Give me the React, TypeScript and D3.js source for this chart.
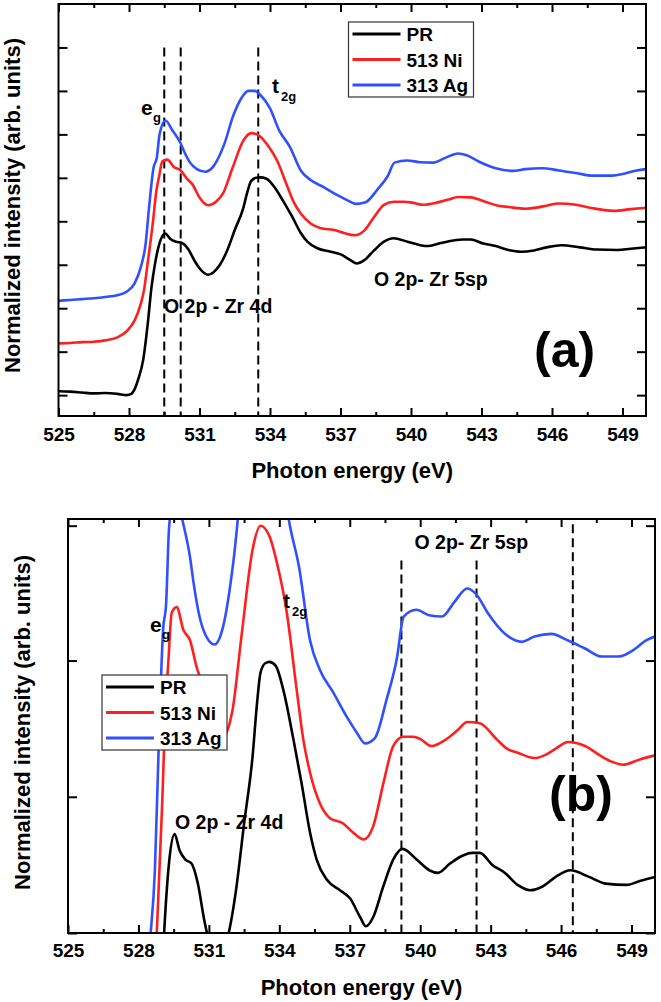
import React, { useRef, useEffect } from "react";
import * as d3 from "d3";

type Pt = [number, number];

// O K-edge spectra, [photon energy (eV), normalized intensity]
const prData: Pt[] = [
  [525.0, 0.09], [525.5, 0.08], [526.0, 0.06], [526.5, 0.04], [527.0, 0.05], [527.5, 0.03],
  [527.9, 0.0], [528.1, 0.03], [528.25, 0.15], [528.4, 0.38], [528.6, 0.8], [528.8, 1.65],
  [528.95, 2.45], [529.1, 3.0], [529.3, 3.5], [529.54, 3.72], [529.75, 3.6], [530.0, 3.53],
  [530.26, 3.5], [530.53, 3.35], [530.8, 3.08], [531.0, 2.92], [531.2, 2.81], [531.37, 2.77],
  [531.6, 2.83], [531.87, 3.0], [532.14, 3.28], [532.5, 3.8], [532.86, 4.3], [533.05, 4.7],
  [533.2, 4.93], [533.4, 5.0], [533.58, 5.01], [533.85, 4.98], [534.17, 4.8], [534.6, 4.43],
  [534.95, 4.1], [535.31, 3.73], [535.59, 3.53], [536.02, 3.38], [536.58, 3.3], [537.01, 3.24],
  [537.44, 3.1], [537.69, 3.03], [538.0, 3.1], [538.43, 3.33], [538.85, 3.53], [539.25, 3.61],
  [539.85, 3.53], [540.39, 3.45], [540.75, 3.43], [541.27, 3.5], [541.82, 3.56], [542.2, 3.58],
  [542.54, 3.58], [543.07, 3.49], [543.61, 3.43], [544.15, 3.34], [544.69, 3.3], [545.23, 3.33],
  [545.77, 3.4], [546.4, 3.45], [547.19, 3.4], [547.9, 3.35], [548.8, 3.34], [549.35, 3.37],
  [550.0, 3.4],
];

const niData: Pt[] = [
  [525.0, 1.19], [525.5, 1.2], [526.0, 1.22], [526.5, 1.23], [527.0, 1.26], [527.5, 1.33],
  [527.9, 1.47], [528.24, 1.72], [528.5, 2.1], [528.65, 2.45], [528.78, 2.98], [529.0, 3.9],
  [529.17, 4.72], [529.27, 5.0], [529.42, 5.38], [529.63, 5.42], [529.91, 5.25], [530.2, 5.17],
  [530.48, 4.97], [530.7, 4.85], [531.0, 4.55], [531.37, 4.37], [531.7, 4.45], [532.0, 4.64],
  [532.4, 5.22], [532.86, 5.85], [533.2, 6.03], [533.58, 5.95], [533.94, 5.72], [534.3, 5.4],
  [534.74, 4.8], [535.02, 4.43], [535.31, 4.18], [535.73, 3.95], [536.16, 3.84], [536.72, 3.8],
  [537.15, 3.73], [537.6, 3.68], [538.0, 3.78], [538.43, 4.1], [538.85, 4.38], [539.28, 4.45],
  [539.71, 4.45], [540.03, 4.43], [540.48, 4.38], [541.1, 4.43], [541.6, 4.5], [542.0, 4.56],
  [542.54, 4.55], [543.26, 4.43], [543.7, 4.36], [544.15, 4.33], [544.87, 4.29], [545.4, 4.32],
  [545.77, 4.36], [546.3, 4.41], [547.02, 4.38], [547.74, 4.3], [548.2, 4.26], [548.63, 4.24],
  [549.35, 4.28], [550.0, 4.31],
];

const agData: Pt[] = [
  [525.0, 2.17], [525.5, 2.19], [526.0, 2.21], [526.5, 2.23], [527.0, 2.26], [527.5, 2.3],
  [527.9, 2.38], [528.24, 2.57], [528.52, 2.98], [528.7, 3.45], [528.85, 4.3], [529.05, 5.25],
  [529.18, 5.45], [529.3, 6.0], [529.55, 6.32], [529.85, 6.09], [530.2, 5.79], [530.35, 5.6],
  [530.6, 5.35], [530.89, 5.2], [531.24, 5.14], [531.6, 5.27], [532.05, 5.77], [532.45, 6.45],
  [532.8, 6.85], [533.08, 7.0], [533.35, 7.0], [533.6, 6.9], [534.0, 6.6], [534.4, 6.08],
  [534.84, 5.72], [535.31, 5.17], [535.73, 4.95], [536.3, 4.78], [536.87, 4.6], [537.3, 4.48],
  [537.65, 4.4], [538.07, 4.44], [538.57, 4.73], [539.0, 5.03], [539.3, 5.35], [539.84, 5.4],
  [540.38, 5.36], [540.93, 5.35], [541.46, 5.46], [542.0, 5.56], [542.37, 5.52], [542.9, 5.37],
  [543.61, 5.22], [544.33, 5.16], [544.87, 5.2], [545.58, 5.22], [546.3, 5.17], [547.02, 5.11],
  [547.74, 5.05], [548.45, 5.05], [549.17, 5.11], [549.6, 5.17], [550.0, 5.2],
];

const seriesNames = ["PR", "513 Ni", "313 Ag"];
const seriesColors = ["#000000", "#ff1f1f", "#3050ff"];
const seriesData = [prData, niData, agData];

const xDomain: Pt = [525, 550];
const xMajorTicks = [525, 528, 531, 534, 537, 540, 543, 546, 549];
const xMinorTicks = [526.5, 529.5, 532.5, 535.5, 538.5, 541.5, 544.5, 547.5];
const topYTicks = [0, 1, 2, 3, 4, 5, 6, 7, 8];
const bottomYTicks = [2.98, 4.0, 5.02, 6.03];

// dashed guide lines: energy and the intensity where the dash starts
const topDashEnergy = [529.5, 530.2, 533.5];
const topDashStart = [8.0, 8.0, 8.0];
const bottomDashEnergy = [539.2, 542.4, 546.5];
const bottomDashStart = [5.77, 5.77, 6.04];

const FONT = "'Liberation Sans', Arial, sans-serif";

const panels = [
  {
    id: "a",
    left: 58.5, right: 646, top: 4, bottom: 416,
    yDomain: [-0.48, 9.0] as Pt,
    yTicks: topYTicks,
    dashE: topDashEnergy, dashI: topDashStart,
    tickPad: 12,
    xTitleY: 478, yTitleX: 20, yTitleY: 205.5,
    legend: { x: 348.5, y: 22 },
    eg: { x: 141, y: 115 }, t2g: { x: 272, y: 93 },
    zr4d: { x: 164, y: 312.5 }, zr5sp: { x: 374, y: 286 },
    tag: { text: "(a)", x: 534, y: 367 },
  },
  {
    id: "b",
    left: 68, right: 655, top: 519, bottom: 933,
    yDomain: [2.98, 6.08] as Pt,
    yTicks: bottomYTicks,
    dashE: bottomDashEnergy, dashI: bottomDashStart,
    tickPad: 11,
    xTitleY: 995, yTitleX: 29.5, yTitleY: 722.5,
    legend: { x: 102, y: 675 },
    eg: { x: 150, y: 632 }, t2g: { x: 283, y: 608 },
    zr4d: { x: 175, y: 828.5 }, zr5sp: { x: 414.5, y: 548.5 },
    tag: { text: "(b)", x: 549, y: 811 },
  },
];

const App = () => {
  const svgRef = useRef<SVGSVGElement>(null);

  useEffect(() => {
    const svg = d3.select(svgRef.current);
    svg.selectAll("*").remove();

    panels.forEach((p) => {
      const x = d3.scaleLinear().domain(xDomain).range([p.left, p.right]);
      const y = d3.scaleLinear().domain(p.yDomain).range([p.bottom, p.top]);
      const g = svg.append("g");

      const clipId = `clip-${p.id}`;
      g.append("clipPath")
        .attr("id", clipId)
        .append("rect")
        .attr("x", p.left)
        .attr("y", p.top)
        .attr("width", p.right - p.left)
        .attr("height", p.bottom - p.top);

      // dashed guides
      p.dashE.forEach((e, i) => {
        g.append("line")
          .attr("x1", x(e))
          .attr("x2", x(e))
          .attr("y1", y(p.dashI[i]))
          .attr("y2", p.bottom)
          .attr("stroke", "#000")
          .attr("stroke-width", 2)
          .attr("stroke-dasharray", "9,5");
      });

      const line = d3
        .line<Pt>()
        .x((d) => x(d[0]))
        .y((d) => y(d[1]))
        .curve(d3.curveMonotoneX);

      seriesData.forEach((s, i) => {
        g.append("path")
          .attr("d", line(s))
          .attr("clip-path", `url(#${clipId})`)
          .attr("fill", "none")
          .attr("stroke", seriesColors[i])
          .attr("stroke-width", 2.6)
          .attr("stroke-linejoin", "round");
      });

      // axes, ticks pointing inward on all four sides
      const styleAxis = (a) => {
        a.select(".domain").remove();
        a.selectAll("line").attr("stroke", "#000").attr("stroke-width", 2);
        a.selectAll("text")
          .attr("font-family", FONT)
          .attr("font-weight", "bold")
          .attr("font-size", 19)
          .attr("fill", "#000");
      };

      g.append("g")
        .attr("transform", `translate(0,${p.bottom})`)
        .call(
          d3.axisBottom(x).tickValues(xMajorTicks).tickSize(-8).tickSizeOuter(0)
            .tickPadding(p.tickPad).tickFormat(d3.format("d"))
        )
        .call(styleAxis);
      g.append("g")
        .attr("transform", `translate(0,${p.bottom})`)
        .call(d3.axisBottom(x).tickValues(xMinorTicks).tickSize(-4).tickSizeOuter(0).tickFormat(() => ""))
        .call(styleAxis);
      g.append("g")
        .attr("transform", `translate(0,${p.top})`)
        .call(d3.axisTop(x).tickValues(xMajorTicks).tickSize(-8).tickSizeOuter(0).tickFormat(() => ""))
        .call(styleAxis);
      g.append("g")
        .attr("transform", `translate(0,${p.top})`)
        .call(d3.axisTop(x).tickValues(xMinorTicks).tickSize(-4).tickSizeOuter(0).tickFormat(() => ""))
        .call(styleAxis);
      g.append("g")
        .attr("transform", `translate(${p.left},0)`)
        .call(d3.axisLeft(y).tickValues(p.yTicks).tickSize(-9).tickSizeOuter(0).tickFormat(() => ""))
        .call(styleAxis);
      g.append("g")
        .attr("transform", `translate(${p.right},0)`)
        .call(d3.axisRight(y).tickValues(p.yTicks).tickSize(-9).tickSizeOuter(0).tickFormat(() => ""))
        .call(styleAxis);

      g.append("rect")
        .attr("x", p.left)
        .attr("y", p.top)
        .attr("width", p.right - p.left)
        .attr("height", p.bottom - p.top)
        .attr("fill", "none")
        .attr("stroke", "#000")
        .attr("stroke-width", 2);

      // titles
      g.append("text")
        .attr("x", (p.left + p.right) / 2)
        .attr("y", p.xTitleY)
        .attr("text-anchor", "middle")
        .attr("font-family", FONT)
        .attr("font-weight", "bold")
        .attr("font-size", 22)
        .text("Photon energy (eV)");
      g.append("text")
        .attr("transform", `translate(${p.yTitleX},${p.yTitleY}) rotate(-90)`)
        .attr("text-anchor", "middle")
        .attr("font-family", FONT)
        .attr("font-weight", "bold")
        .attr("font-size", 22)
        .text("Normalized intensity (arb. units)");

      // legend
      const lg = g.append("g").attr("transform", `translate(${p.legend.x},${p.legend.y})`);
      lg.append("rect")
        .attr("width", 125)
        .attr("height", 75)
        .attr("fill", "#fff")
        .attr("stroke", "#333")
        .attr("stroke-width", 1.2);
      seriesNames.forEach((name, i) => {
        const ly = 12 + i * 25.5;
        lg.append("line")
          .attr("x1", 4)
          .attr("x2", 52)
          .attr("y1", ly)
          .attr("y2", ly)
          .attr("stroke", seriesColors[i])
          .attr("stroke-width", 3);
        lg.append("text")
          .attr("x", 58)
          .attr("y", ly + 7)
          .attr("font-family", FONT)
          .attr("font-weight", "bold")
          .attr("font-size", 19)
          .text(name);
      });

      // annotations
      const label = (t, lx, ly, size) =>
        g.append("text")
          .attr("x", lx)
          .attr("y", ly)
          .attr("font-family", FONT)
          .attr("font-weight", "bold")
          .attr("font-size", size)
          .text(t);
      label("e", p.eg.x, p.eg.y, 21);
      label("g", p.eg.x + 12, p.eg.y + 7, 13);
      label("t", p.t2g.x, p.t2g.y, 21);
      label("2g", p.t2g.x + 9, p.t2g.y + 8, 13);
      label("O 2p - Zr 4d", p.zr4d.x, p.zr4d.y, 19.5);
      label("O 2p- Zr 5sp", p.zr5sp.x, p.zr5sp.y, 19.5);
      label(p.tag.text, p.tag.x, p.tag.y, 50);
    });
  }, []);

  return (
    <svg
      ref={svgRef}
      width={661}
      height={1002}
      style={{ position: "absolute", left: 0, top: 0, background: "#fff" }}
    ></svg>
  );
};

export default App;
